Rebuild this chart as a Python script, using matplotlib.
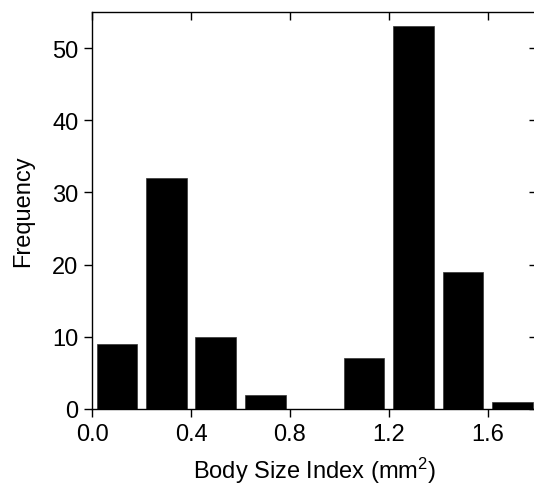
import matplotlib
matplotlib.use("Agg")
import matplotlib.pyplot as plt
from matplotlib import lines as mlines

bin_centers = [0.1, 0.3, 0.5, 0.7, 0.9, 1.1, 1.3, 1.5, 1.7]
frequencies = [9, 32, 10, 2, 0, 7, 53, 19, 1]
x_ticks = [0.0, 0.4, 0.8, 1.2, 1.6]
x_tick_labels = ["0.0", "0.4", "0.8", "1.2", "1.6"]
y_ticks = [0, 10, 20, 30, 40, 50]

plt.rcParams['font.family'] = ['Liberation Sans', 'DejaVu Sans']
plt.rcParams['mathtext.fontset'] = 'custom'
plt.rcParams['mathtext.rm'] = 'Liberation Sans'
plt.rcParams['mathtext.it'] = 'Liberation Sans:italic'
plt.rcParams['mathtext.bf'] = 'Liberation Sans:bold'

fig = plt.figure(figsize=(5.34, 4.85), dpi=100)
ax = fig.add_axes([92.3/534, 75/485, (537-92.3)/534, (410-13)/485])

ax.bar(bin_centers, frequencies, width=0.165, color='black', edgecolor='#333333', linewidth=0.5)

ax.set_xlim(0, 1.8)
ax.set_ylim(0, 55)
ax.set_xticks(x_ticks)
ax.set_xticklabels(x_tick_labels)
ax.set_yticks(y_ticks)

for s in ax.spines.values():
    s.set_linewidth(1.0)

ax.tick_params(axis='both', which='major', direction='out', length=6, width=1.0,
               labelsize=17, pad=4)
ax.tick_params(top=True, right=True)
for t in ax.xaxis.get_major_ticks():
    t.tick2line.set_marker(mlines.TICKDOWN)
for t in ax.yaxis.get_major_ticks():
    t.tick2line.set_marker(mlines.TICKLEFT)

ax.set_xlabel("Body Size Index (mm$\\mathregular{^2}$)", fontsize=17)
ax.set_ylabel("Frequency", fontsize=17)
ax.xaxis.set_label_coords(0.5, (410-456)/397)
ax.yaxis.set_label_coords((34-92.3)/444.7, 0.5)

fig.savefig("out.png", dpi=100)
